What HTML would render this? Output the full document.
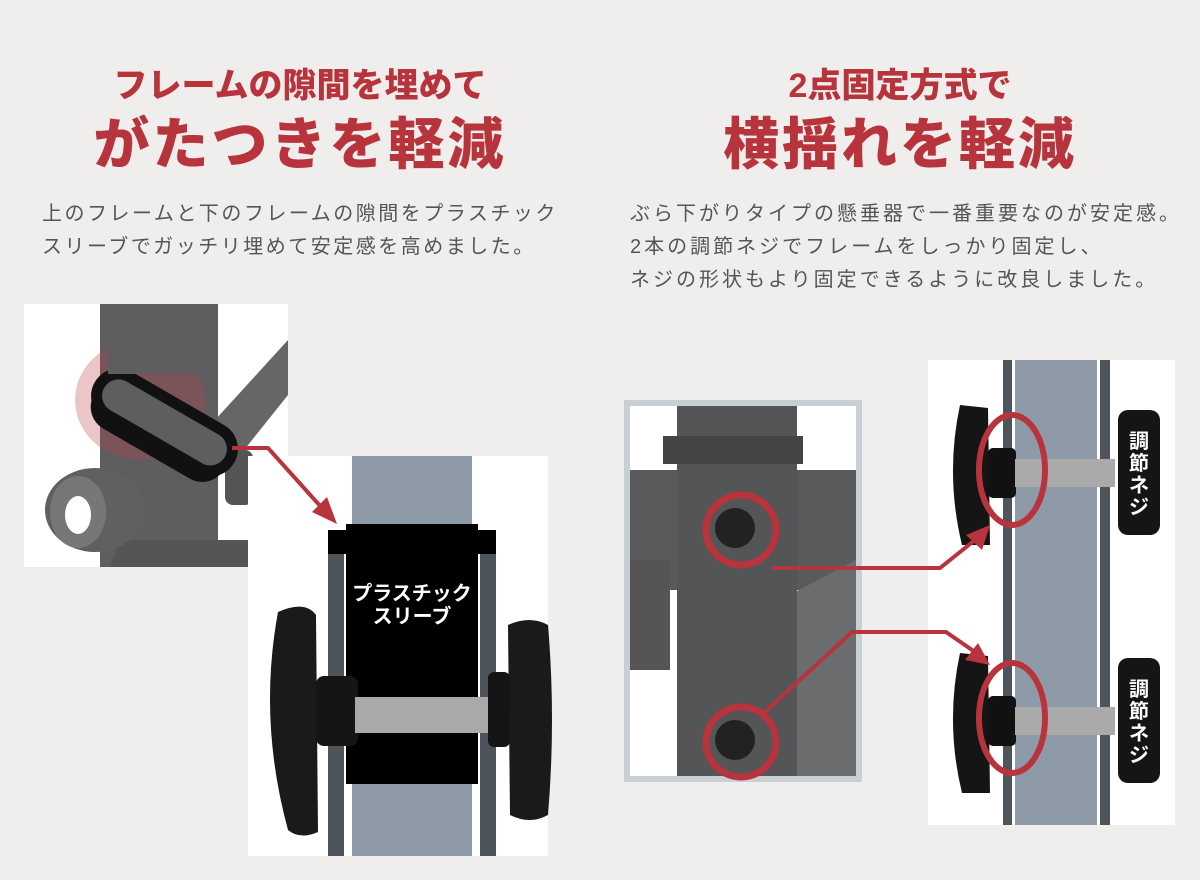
<!DOCTYPE html>
<html><head><meta charset="utf-8"><style>
*{margin:0;padding:0;box-sizing:border-box}
body{width:1200px;height:880px;background:#efeeec;position:relative;overflow:hidden;font-family:"Liberation Sans","Noto Sans CJK JP",sans-serif}
.t{position:absolute;text-align:center;color:#b8343d;font-weight:900;white-space:nowrap}
.p{position:absolute;color:#555;font-size:20px;line-height:33px;white-space:nowrap;letter-spacing:2.5px}
.a{position:absolute}
</style></head><body>
<div class="t" style="left:0;width:600px;top:58px;font-size:34px">フレームの隙間を埋めて</div>
<div class="t" style="left:0;width:600px;top:100px;font-size:56px;letter-spacing:3px">がたつきを軽減</div>
<div class="t" style="left:600px;width:600px;top:58px;font-size:34px">2点固定方式で</div>
<div class="t" style="left:600px;width:600px;top:100px;font-size:56px;letter-spacing:3px">横揺れを軽減</div>
<div class="p" style="left:42px;top:198px">上のフレームと下のフレームの隙間をプラスチック<br>スリーブでガッチリ埋めて安定感を高めました。</div>
<div class="p" style="left:630px;top:198px;letter-spacing:3px">ぶら下がりタイプの懸垂器で一番重要なのが安定感。<br>2本の調節ネジでフレームをしっかり固定し、<br>ネジの形状もより固定できるように改良しました。</div>

<svg class="a" style="left:0;top:0" width="1200" height="880">
<!-- left photo -->
<rect x="24" y="304" width="264" height="263" fill="#fff"/>
<path d="M215 420 L288 340 L288 395 L240 455Z" fill="#666"/>
<rect x="100" y="304" width="118" height="263" fill="#5e5e60"/>
<path d="M120 540 L250 540 L250 567 L110 567Z" fill="#555"/>
<ellipse cx="95" cy="510" rx="50" ry="42" fill="#606060"/>
<ellipse cx="78" cy="512" rx="28" ry="36" fill="#777"/>
<ellipse cx="78" cy="515" rx="13" ry="19" fill="#fff"/>
<rect x="225" y="450" width="28" height="55" rx="8" fill="#555"/>
<ellipse cx="140" cy="400" rx="65" ry="60" fill="#c0404a" opacity=".3"/>
<g transform="rotate(30 163 425)">
<rect x="88" y="408" width="150" height="50" rx="25" fill="#111"/>
<rect x="88" y="400" width="150" height="44" rx="22" fill="#5e5e60" stroke="#111" stroke-width="11"/>
</g>
<rect x="108" y="304" width="102" height="70" fill="#5e5e60"/>
<!-- right diagram (left side) -->
<rect x="248" y="456" width="300" height="400" fill="#fff"/>
<rect x="352" y="456" width="120" height="400" fill="#8e9aa8"/>
<rect x="328" y="554" width="16" height="302" fill="#4d545c"/>
<rect x="480" y="554" width="16" height="302" fill="#4d545c"/>
<rect x="346" y="524" width="132" height="260" fill="#000"/>
<rect x="328" y="530" width="168" height="24" fill="#000"/>
<path d="M278 612 Q305 600 316 615 L318 832 Q300 840 288 830 Q258 720 278 612Z" fill="#1a1a1a"/>
<rect x="316" y="676" width="42" height="70" rx="8" fill="#151515"/>
<rect x="355" y="697" width="138" height="36" fill="#a9a9a9"/>
<rect x="488" y="672" width="22" height="75" rx="6" fill="#151515"/>
<path d="M508 625 Q530 615 548 625 Q556 720 548 815 Q530 825 510 815Z" fill="#1a1a1a"/>
<text x="412" y="600" fill="#fff" font-size="20" font-weight="700" text-anchor="middle">プラスチック</text>
<text x="412" y="623" fill="#fff" font-size="20" font-weight="700" text-anchor="middle">スリーブ</text>
<path d="M232 448 L268 448 L322 508" fill="none" stroke="#b8343d" stroke-width="4"/>
<path d="M337 524 L312 512 L327 497Z" fill="#b8343d"/>

<!-- right photo -->
<rect x="624" y="400" width="238" height="382" fill="#c8cfd3"/>
<rect x="630" y="406" width="226" height="370" fill="#fff"/>
<rect x="630" y="470" width="226" height="120" fill="#595a5c"/>
<path d="M780 600 L856 560 L856 776 L790 776Z" fill="#6b6c6e"/>
<rect x="630" y="560" width="40" height="110" fill="#555"/>
<rect x="677" y="406" width="120" height="370" fill="#545557"/>
<rect x="663" y="436" width="140" height="28" fill="#444"/>
<circle cx="735" cy="528" r="20" fill="#222"/>
<circle cx="735" cy="740" r="20" fill="#222"/>
<circle cx="741" cy="530" r="35" fill="none" stroke="#b8343d" stroke-width="7"/>
<circle cx="741" cy="742" r="35" fill="none" stroke="#b8343d" stroke-width="7"/>
<!-- right white panel -->
<rect x="928" y="360" width="247" height="465" fill="#fff"/>
<rect x="1015" y="360" width="82" height="465" fill="#8e9aa8"/>
<rect x="1003" y="360" width="9" height="465" fill="#4d545c"/>
<rect x="1100" y="360" width="10" height="465" fill="#4d545c"/>
<g id="k">
<path d="M960 405 L988 408 L990 545 L962 545 Q945 475 960 405Z" fill="#151515"/>
<rect x="988" y="448" width="28" height="50" rx="5" fill="#111"/>
<rect x="1015" y="459" width="100" height="28" fill="#aaa"/>
<rect x="1118" y="410" width="42" height="125" rx="10" fill="#151515"/>
<ellipse cx="1012" cy="470" rx="33" ry="55" fill="none" stroke="#b8343d" stroke-width="6"/>
</g>
<use href="#k" y="248"/>
<g fill="#fff" font-size="20" font-weight="700" text-anchor="middle">
<text x="1139" y="448">調</text><text x="1139" y="470">節</text><text x="1139" y="492">ネ</text><text x="1139" y="514">ジ</text>
<text x="1139" y="696">調</text><text x="1139" y="718">節</text><text x="1139" y="740">ネ</text><text x="1139" y="762">ジ</text>
</g>
<path d="M772 568 L940 568 L975 540" fill="none" stroke="#b8343d" stroke-width="4"/>
<path d="M990 525 L982 550 L966 535Z" fill="#b8343d"/>
<path d="M765 712 L852 632 L946 632 L975 652" fill="none" stroke="#b8343d" stroke-width="4"/>
<path d="M990 665 L965 660 L978 643Z" fill="#b8343d"/>
</svg>
</body></html>
